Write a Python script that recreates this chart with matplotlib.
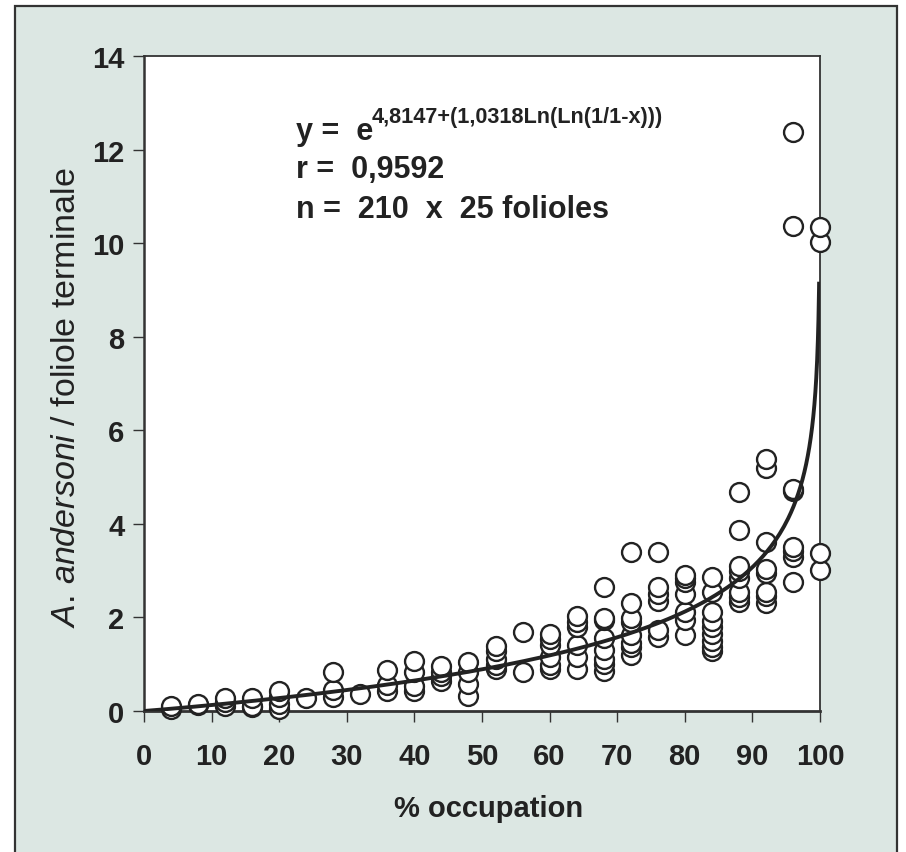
import numpy as np
import matplotlib.pyplot as plt
from matplotlib.patches import Rectangle

plt.rcParams['font.family'] = ['Liberation Sans', 'DejaVu Sans']
plt.rcParams['mathtext.fontset'] = 'custom'
plt.rcParams['mathtext.it'] = 'Liberation Sans:italic'
plt.rcParams['mathtext.rm'] = 'Liberation Sans'

# % occupation classes and the counts for each class
occupation = [4, 8, 12, 16, 20, 24, 28, 32, 36, 40, 44, 48, 52,
              56, 60, 64, 68, 72, 76, 80, 84, 88, 92, 96, 100]
counts = [
    [0.05, 0.10],
    [0.13, 0.15],
    [0.10, 0.19, 0.28],
    [0.09, 0.11, 0.28],
    [0.04, 0.15, 0.30, 0.43],
    [0.28],
    [0.30, 0.45, 0.83],
    [0.36],
    [0.42, 0.55, 0.88],
    [0.43, 0.53, 0.83, 1.07],
    [0.64, 0.75, 0.83, 0.96],
    [0.32, 0.58, 0.83, 1.05],
    [0.90, 0.98, 1.11, 1.28, 1.39],
    [0.83, 1.69],
    [0.90, 0.98, 1.15, 1.41, 1.54, 1.65],
    [0.90, 1.15, 1.41, 1.79, 1.90, 2.03],
    [0.85, 1.00, 1.11, 1.30, 1.56, 1.94, 1.99, 2.65],
    [1.20, 1.37, 1.45, 1.62, 1.90, 1.99, 2.31, 3.40],
    [1.58, 1.73, 2.35, 2.50, 2.65, 3.40],
    [1.62, 1.94, 2.12, 2.50, 2.76, 2.84, 2.90],
    [1.28, 1.37, 1.50, 1.65, 1.79, 1.92, 2.12, 2.54, 2.86],
    [2.33, 2.44, 2.54, 2.84, 2.99, 3.10, 3.87, 4.68],
    [2.31, 2.46, 2.54, 2.95, 3.03, 3.61, 5.20, 5.38],
    [2.76, 3.29, 3.42, 3.50, 4.70, 4.74, 10.36, 12.37],
    [3.01, 3.38, 10.02, 10.34],
]

# fitted curve  y = c * Ln(1/(1-x))^b
fit_c = 1.30
fit_b = 1.0318
p_end = 0.9987

xticks = [0, 10, 20, 30, 40, 50, 60, 70, 80, 90, 100]
yticks = [0, 2, 4, 6, 8, 10, 12, 14]

xs = []
ys = []
for occ, vals in zip(occupation, counts):
    xs += [occ] * len(vals)
    ys += vals

p = np.concatenate([np.linspace(0, 0.95, 300), np.linspace(0.95, p_end, 300)])
curve = fit_c * np.log(1 / (1 - p)) ** fit_b

fig = plt.figure(figsize=(9.06, 8.53), dpi=100, facecolor='white')
fig.add_artist(Rectangle((15 / 906, -0.02), (897 - 15) / 906, 1.02 - 7 / 853,
                         transform=fig.transFigure, facecolor='#dce7e3',
                         edgecolor='#333333', lw=1.6, zorder=-10))

ax = fig.add_axes([144 / 906, 1 - 712 / 853, (820 - 144) / 906, (712 - 57) / 853])
ax.set_facecolor('white')

ax.scatter(xs, ys, s=185, facecolors='white', edgecolors='#222222', linewidths=1.7,
           zorder=3, clip_on=False)
ax.plot(p * 100, curve, color='#222222', lw=2.8, zorder=4, solid_capstyle='butt')

ax.set_xlim(0, 100)
ax.set_ylim(0, 14)
ax.set_xticks(xticks)
ax.set_yticks(yticks)
ax.tick_params(direction='out', length=8, width=1, colors='#333333', labelcolor='#222222',
               labelsize=21, pad=14)
ax.tick_params(axis='y', pad=6)
for lab in ax.get_xticklabels() + ax.get_yticklabels():
    lab.set_fontweight('bold')
for sp in ax.spines.values():
    sp.set_color('#333333')
    sp.set_linewidth(1.3)
ax.spines['bottom'].set_linewidth(2)
ax.spines['left'].set_linewidth(1.8)

ax.set_xlabel('% occupation', fontsize=21, fontweight='bold', color='#222222')
ax.xaxis.set_label_coords(0.51, -0.126)
ax.set_ylabel(r'$\it{A.\,andersoni}$ / foliole terminale', fontsize=24.5, color='#222222')
ax.yaxis.set_label_coords(-0.092, 0.48)

ax.text(22.5, 12.22, 'y =  e', fontsize=22, fontweight='bold', color='#222222', va='baseline')
ax.text(33.6, 12.6, '4,8147+(1,0318Ln(Ln(1/1-x)))', fontsize=15.6, fontweight='bold',
        color='#222222', va='baseline')
ax.text(22.5, 11.41, 'r =  0,9592', fontsize=22, fontweight='bold', color='#222222', va='baseline')
ax.text(22.5, 10.56, 'n =  210  x  25 folioles', fontsize=22, fontweight='bold',
        color='#222222', va='baseline')

plt.savefig('out.png', dpi=100, facecolor=fig.get_facecolor())
